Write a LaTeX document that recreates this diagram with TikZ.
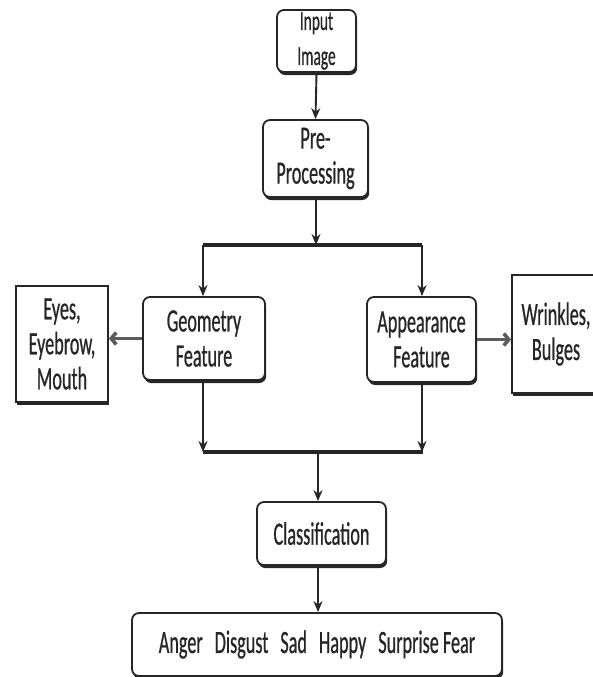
\documentclass[tikz,border=0pt]{standalone}
\usepackage{fontspec}
\setmainfont{Carlito}[FakeStretch=0.56,FakeBold=0.6]
\usetikzlibrary{arrows.meta,positioning,shadows}
\definecolor{inkgray}{RGB}{38,38,38}
\newcommand{\gap}{\hspace{12pt}}

\begin{document}
\begin{tikzpicture}[x=1pt,y=-1pt,
  stage/.style={rounded corners=7pt,draw=inkgray,line width=1.8pt,fill=white,align=center,inner sep=0pt,
    font=\fontsize{32.5}{35}\selectfont,text=inkgray,
    drop shadow={shadow xshift=1.2pt,shadow yshift=-3pt,opacity=1,fill=inkgray}},
  cue/.style={stage,rounded corners=0pt},
  arr/.style={-{Stealth[length=11pt,width=9pt]},line width=1.9pt,inkgray},
  side/.style={-{Straight Barb[length=5pt,width=12pt]},line width=3.6pt,inkgray!75},
  bar/.style={line width=3.5pt,inkgray}]
\useasboundingbox (0,0) rectangle (593,677);
% main column
\node[stage,minimum width=79pt,minimum height=62pt,font=\fontsize{27.5}{35}\selectfont] (in) at (316.5,41) {Input\\Image};
\node[stage,minimum width=105pt,minimum height=77pt] (pre) at (315.5,158.5) {Pre-\\Processing};
\node[stage,minimum width=122pt,minimum height=83pt] (geo) at (204,338.5) {Geometry\\Feature};
\node[stage,minimum width=109pt,minimum height=85pt] (app) at (421.5,339.5) {Appearance\\Feature};
\node[cue,minimum width=92pt,minimum height=116pt] (eyes) at (62,344) {Eyes,\\Eyebrow,\\Mouth};
\node[cue,minimum width=88pt,minimum height=118pt] (wrk) at (556,334) {Wrinkles,\\Bulges};
\node[stage,minimum width=129pt,minimum height=63pt] (cls) at (321.5,533.5) {Classification};
\node[stage,minimum width=370pt,minimum height=63pt] (out) at (317,644.5)
  {Anger\gap Disgust\gap Sad\gap Happy\gap Surprise Fear};
% junctions
\coordinate (split) at (316,245);
\coordinate (merge) at (318,452);
\draw[arr] (in.south) -- (pre.north);
\draw[arr] (pre.south -| split) -- (split);
\draw[bar] (203,245) -- (422,245);
\draw[arr] (203,245) -- (geo.north -| 203,0);
\draw[arr] (422,245) -- (app.north -| 422,0);
\draw[side] (geo.west) -- (eyes.east |- geo.west);
\draw[side] (app.east) -- (wrk.west |- app.east);
\draw[arr] (geo.south -| 203,0) -- (203,452);
\draw[arr] (app.south -| 422,0) -- (422,452);
\draw[bar] (203,452) -- (423,452);
\draw[arr] (merge) -- (cls.north -| merge);
\draw[arr] (cls.south -| merge) -- (out.north -| merge);
\end{tikzpicture}
\end{document}
